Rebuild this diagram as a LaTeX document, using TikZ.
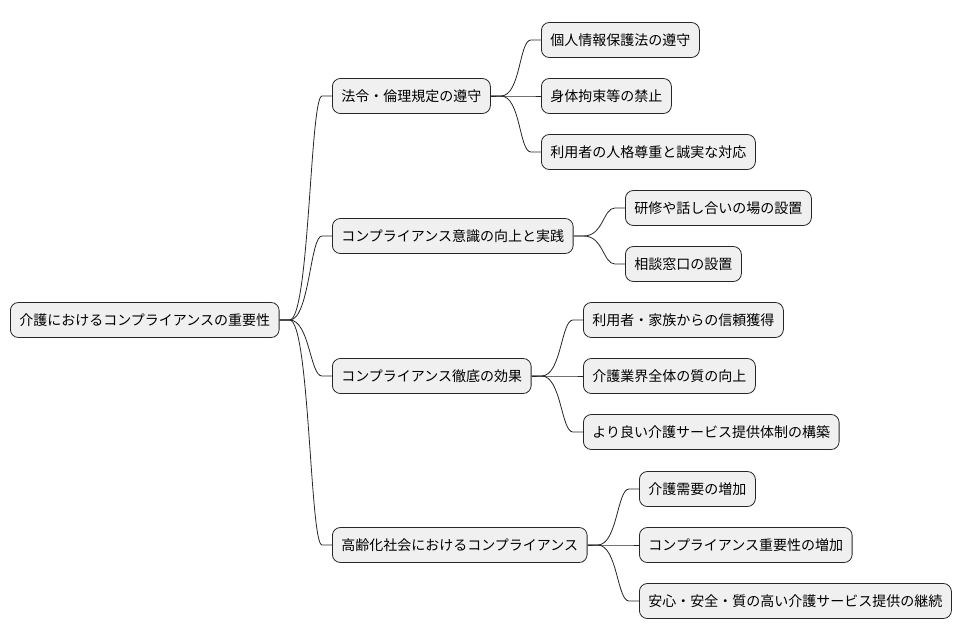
\documentclass[tikz,border=0pt]{standalone}
\usepackage{fontspec}
\setmainfont{Noto Sans CJK JP}
\begin{document}
\begin{tikzpicture}[x=1pt,y=-1pt,
  box/.style={draw=black!85,fill=black!6,rounded corners=8pt,minimum height=35pt,inner xsep=9pt,anchor=west,font=\fontsize{14pt}{16pt}\selectfont,line width=0.8pt},
  ln/.style={draw=black!85,line width=0.8pt}]
\useasboundingbox (0,0) rectangle (964,640);
\node[box] (r) at (10,320) {介護におけるコンプライアンスの重要性};
\node[box] (a) at (332,96) {法令・倫理規定の遵守};
\node[box] (b) at (332,236) {コンプライアンス意識の向上と実践};
\node[box] (c) at (332,376) {コンプライアンス徹底の効果};
\node[box] (d) at (332,545) {高齢化社会におけるコンプライアンス};
\node[box] (a1) at (541,40) {個人情報保護法の遵守};
\node[box] (a2) at (541,96) {身体拘束等の禁止};
\node[box] (a3) at (541,152) {利用者の人格尊重と誠実な対応};
\node[box] (b1) at (625,208) {研修や話し合いの場の設置};
\node[box] (b2) at (625,264) {相談窓口の設置};
\node[box] (c1) at (583,320) {利用者・家族からの信頼獲得};
\node[box] (c2) at (583,376) {介護業界全体の質の向上};
\node[box] (c3) at (583,432) {より良い介護サービス提供体制の構築};
\node[box] (d1) at (639,489) {介護需要の増加};
\node[box] (d2) at (639,545) {コンプライアンス重要性の増加};
\node[box] (d3) at (639,601) {安心・安全・質の高い介護サービス提供の継続};
\foreach \p/\c in {r/a,r/b,r/c,r/d,a/a1,a/a2,a/a3,b/b1,b/b2,c/c1,c/c2,c/c3,d/d1,d/d2,d/d3}{
  \draw[ln] (\p.east) -- ++(10,0) .. controls +(20,0) and ([xshift=-22pt]\c.west) .. ([xshift=-10pt]\c.west) -- (\c.west);
}
\end{tikzpicture}
\end{document}
